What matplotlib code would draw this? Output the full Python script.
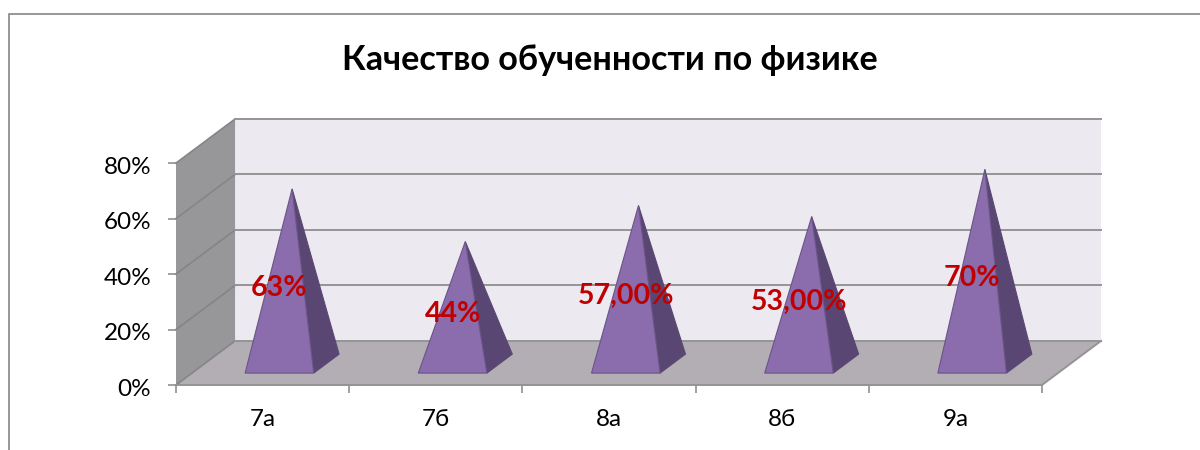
import matplotlib
matplotlib.use('Agg')
import matplotlib.pyplot as plt
from matplotlib.patches import Polygon, Rectangle
from matplotlib.transforms import ScaledTranslation

plt.rcParams['font.family'] = ['Lato', 'Open Sans', 'DejaVu Sans']

classes = ['7а', '7б', '8а', '8б', '9а']
quality = [63, 44, 57, 53, 70]
value_labels = ['63%', '44%', '57,00%', '53,00%', '70%']
y_ticks = [0, 20, 40, 60, 80]

# how far the back of the box is shifted from the front, in data units
DEPTH_X = 0.341
DEPTH_Y = 15.9
HALF_WIDTH = 0.198
BASE_FRONT = 0.27
BASE_BACK = 0.70


def pt(x, v, d=0.0):
    return (x + d * DEPTH_X, v + d * DEPTH_Y)


fig = plt.figure(figsize=(12, 4.5), dpi=100)
fig.patches.append(Rectangle((9 / 1200, -0.1), 1.1, 0.1 + 436 / 450, transform=fig.transFigure,
                             facecolor='white', edgecolor='#868686', linewidth=1.2, zorder=-1))

ax = fig.add_axes([176 / 1200, 65 / 450, 925 / 1200, 266 / 450])
ax.set_zorder(2)
ax.set_xlim(0, len(classes) + DEPTH_X)
ax.set_ylim(0, 80 + DEPTH_Y)
ax.patch.set_visible(False)
for s in ax.spines.values():
    s.set_visible(False)

n = len(classes)
# walls and floor
ax.add_patch(Polygon([pt(0, 0, 1), pt(n, 0, 1), pt(n, 80, 1), pt(0, 80, 1)], facecolor='#ECE9F1', edgecolor='none'))
ax.add_patch(Polygon([pt(0, 0), pt(0, 80), pt(0, 80, 1), pt(0, 0, 1)], facecolor='#979699', edgecolor='none'))
ax.add_patch(Polygon([pt(0, 0), pt(n, 0), pt(n, 0, 1), pt(0, 0, 1)], facecolor='#B3AEB3', edgecolor='none'))

# gridlines go along the side wall and then the back wall
for t in y_ticks:
    xs, ys = zip(pt(0, t), pt(0, t, 1))
    ax.plot(xs, ys, color='#858585', linewidth=1.2, clip_on=False, zorder=2)
    xs, ys = zip(pt(0, t, 1), pt(n, t, 1))
    ax.plot(xs, ys, color='#949494', linewidth=1.4, clip_on=False, zorder=2)
xs, ys = zip(pt(0, 0), pt(n, 0), pt(n, 0, 1))
ax.plot(xs, ys, color='#949494', linewidth=1.4, clip_on=False, zorder=2)

# pyramids
for i, v in enumerate(quality):
    c = i + 0.505
    mid = (BASE_FRONT + BASE_BACK) / 2
    fl = pt(c - HALF_WIDTH, 0, BASE_FRONT)
    fr = pt(c + HALF_WIDTH, 0, BASE_FRONT)
    br = pt(c + HALF_WIDTH, 0, BASE_BACK)
    apex = pt(c, v, mid)
    ax.add_patch(Polygon([fr, br, apex], facecolor='#5A4673', edgecolor='#5A4673', linewidth=0.8, zorder=3))
    ax.add_patch(Polygon([fl, fr, apex], facecolor='#8B6DAD', edgecolor='#6A5488', linewidth=0.8, zorder=4))
    lx, ly = pt(c, v / 2 - 0.7, BASE_FRONT)
    ax.text(lx, ly, value_labels[i], color='#C00000', fontsize=20.5, fontweight='bold',
            ha='center', va='center', zorder=5)

ax.set_yticks(y_ticks)
ax.set_yticklabels([f'{t}%' for t in y_ticks], va='center_baseline')
ax.set_xticks(range(n + 1))
ax.set_xticklabels([])
ax.set_xticks([i + 0.5 for i in range(n)], minor=True)
ax.set_xticklabels(classes, minor=True)
ax.tick_params(axis='y', length=5.8, width=1.1, color='#868686', pad=12, labelsize=17.5)
ax.tick_params(axis='x', which='major', length=5.8, width=1.1, color='#868686')
ax.tick_params(axis='x', which='minor', length=0, pad=17.5, labelsize=17.5)

# y labels sit a little lower than the ticks in the original
shift = ScaledTranslation(0, -2 / 100, fig.dpi_scale_trans)
for lab in ax.get_yticklabels():
    lab.set_transform(lab.get_transform() + shift)

fig.text(610 / 1200, 1 - 60 / 450, 'Качество обученности по физике', fontsize=24.6, fontweight='bold',
         ha='center', va='center', color='black')

fig.savefig('out.png', dpi=100)
